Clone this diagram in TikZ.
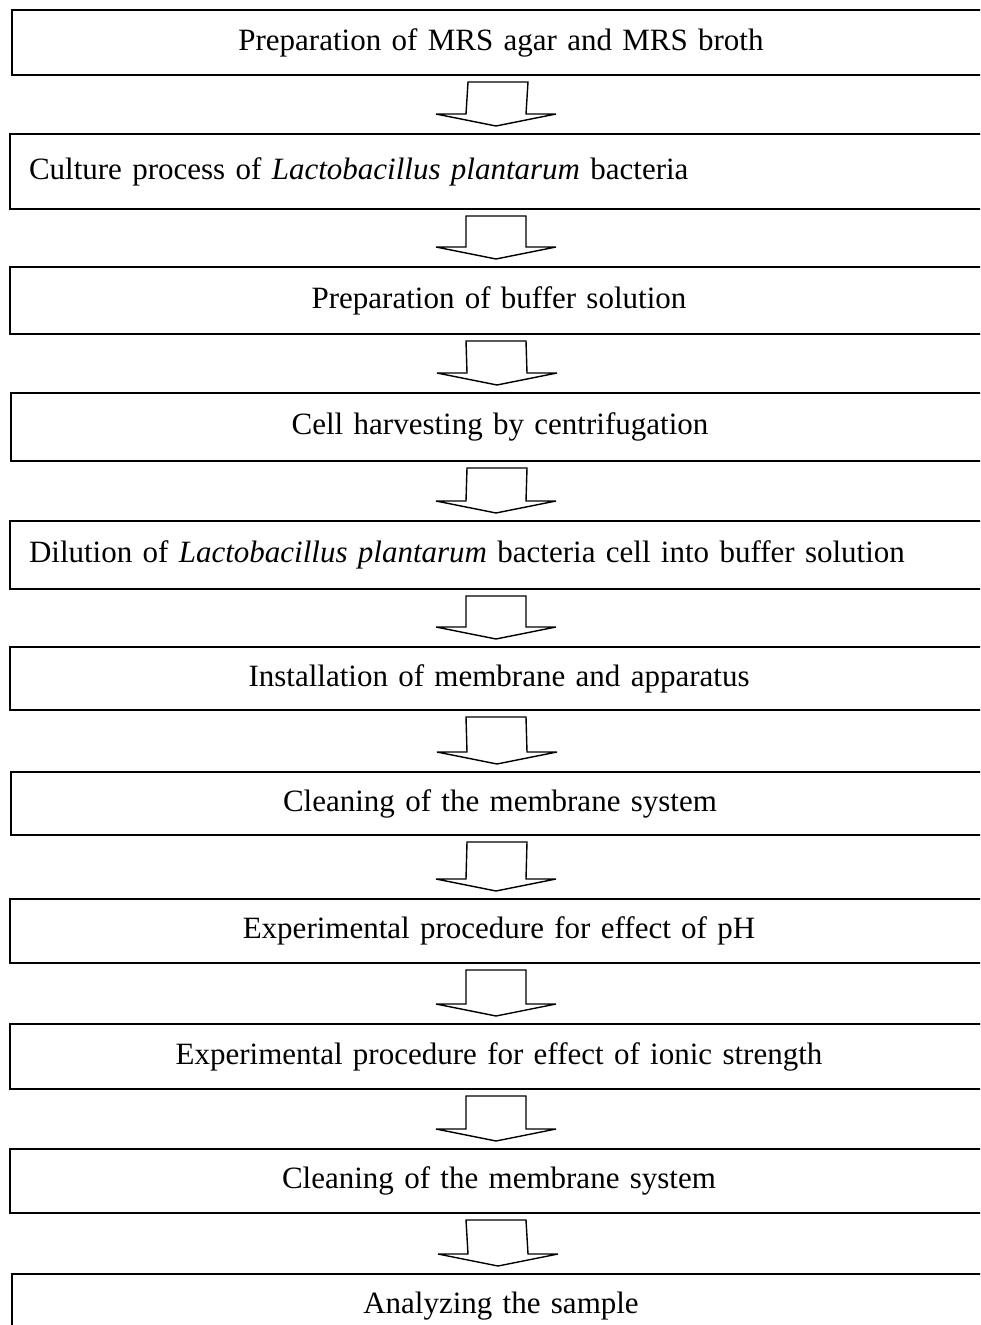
\documentclass[tikz,border=0pt]{standalone}
\usepackage{fontspec}
\setmainfont{Liberation Serif}
\usetikzlibrary{calc}

\tikzset{
  stepbox/.style={draw, line width=2pt, anchor=north west, minimum width=978pt,
    inner xsep=19pt, text width=940pt, align=center,
    font=\fontsize{31}{37}\selectfont},
  leftbox/.style={stepbox, align=left},
  hollowarrow/.style={draw, line width=1.4pt, fill=white, line join=miter}
}

% hollow block arrow from the bottom of one step to the top of the next
\newcommand{\blockarrow}[2]{%
  \draw[hollowarrow] ($(#1.south)+(-33,6)$) -- ($(#2.north)+(-33,-19)$)
    -- ++(-30,0) -- ($(#2.north)+(-3,-7)$) -- ($(#2.north)+(57,-19)$)
    -- ++(-30,0) -- ($(#1.south)+(27,6)$) -- cycle;}

\begin{document}
\begin{tikzpicture}[x=1pt, y=-1pt]
  \useasboundingbox (0,0) rectangle (980,1325);
  \clip (0,0) rectangle (980,1325);

  % steps
  \node[stepbox, minimum height=65pt] (mrs) at (11,9) {Preparation of MRS agar and MRS broth};
  \node[leftbox, minimum height=75pt] (culture) at (9,133) {Culture process of \textit{Lactobacillus plantarum} bacteria\\[6pt]};
  \node[stepbox, minimum height=67pt] (buffer) at (9,266) {Preparation of buffer solution};
  \node[stepbox, minimum height=68pt] (harvest) at (10,392) {Cell harvesting by centrifugation};
  \node[leftbox, minimum height=68pt] (dilution) at (9,520) {Dilution of \textit{Lactobacillus plantarum} bacteria cell into buffer solution};
  \node[stepbox, minimum height=63pt] (install) at (9,646) {Installation of membrane and apparatus};
  \node[stepbox, minimum height=63pt] (cleanA) at (10,771) {Cleaning of the membrane system};
  \node[stepbox, minimum height=64pt] (phtest) at (9,898) {Experimental procedure for effect of pH};
  \node[stepbox, minimum height=65pt] (ionic) at (9,1023) {Experimental procedure for effect of ionic strength};
  \node[stepbox, minimum height=64pt] (cleanB) at (9,1148) {Cleaning of the membrane system};
  \node[stepbox, minimum height=65pt] (analysis) at (11,1273) {Analyzing the sample};

  % arrows between steps
  \blockarrow{mrs}{culture}
  \blockarrow{culture}{buffer}
  \blockarrow{buffer}{harvest}
  \blockarrow{harvest}{dilution}
  \blockarrow{dilution}{install}
  \blockarrow{install}{cleanA}
  \blockarrow{cleanA}{phtest}
  \blockarrow{phtest}{ionic}
  \blockarrow{ionic}{cleanB}
  \blockarrow{cleanB}{analysis}
\end{tikzpicture}
\end{document}
